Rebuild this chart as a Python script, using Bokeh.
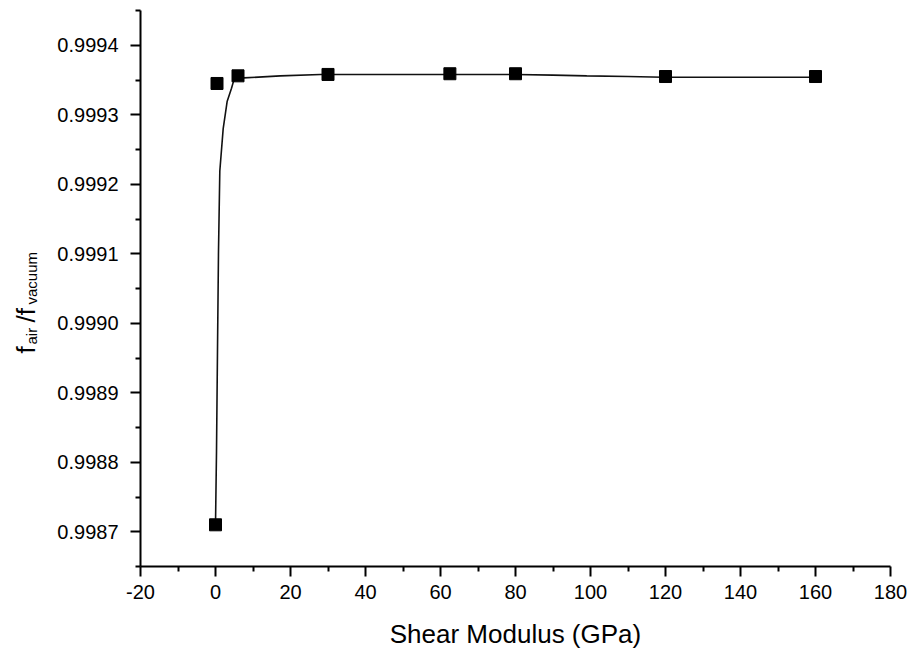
import math
from bokeh.plotting import figure
from bokeh.layouts import row
from bokeh.models import Range1d, FixedTicker, PrintfTickFormatter, ColumnDataSource
from bokeh.core.properties import value
from bokeh.embed import file_html
from bokeh.resources import INLINE

# ---- data ----
shear_modulus = [0, 0.4, 6, 30, 62.5, 80, 120, 160]
freq_ratio = [0.99871, 0.999345, 0.999356, 0.999358, 0.999359, 0.999359, 0.999355, 0.999355]

fit_x = [0, 0.27, 0.53, 0.8, 1.15, 2.05, 3.1, 4.27, 4.8, 5.9, 7.5, 17.3, 28, 49,
         62.5, 80, 90, 99, 110, 119.5, 140, 160]
fit_y = [0.99871, 0.998816, 0.99896, 0.999104, 0.999219, 0.99928, 0.999319, 0.999338,
         0.999348, 0.999355, 0.999353, 0.999356, 0.999358, 0.999358, 0.999358, 0.999358,
         0.999357, 0.999356, 0.999355, 0.999354, 0.999354, 0.999354]

x_ticks = [-20, 0, 20, 40, 60, 80, 100, 120, 140, 160, 180]
x_minor = [-10, 10, 30, 50, 70, 90, 110, 130, 150, 170]
y_ticks = [0.9987, 0.9988, 0.9989, 0.9990, 0.9991, 0.9992, 0.9993, 0.9994]
y_minor = [0.99865, 0.99875, 0.99885, 0.99895, 0.99905, 0.99915, 0.99925, 0.99935, 0.99945]

x_label = "Shear Modulus (GPa)"
y_label_parts = ["f", "air", "/f", "vacuum"]

FONT = "Liberation Sans"
X0, X1 = -20, 180
Y0, Y1 = 0.99865, 0.99945
W, H = 911, 659
LABEL_W = 40
FRAME_TOP, FRAME_BOTTOM = 10, 566

p = figure(width=W - LABEL_W, height=H, output_backend="svg", toolbar_location=None,
           x_range=Range1d(X0, X1), y_range=Range1d(Y0, Y1),
           min_border_left=140 - LABEL_W, min_border_right=21, min_border_top=FRAME_TOP,
           min_border_bottom=H - FRAME_BOTTOM)
p.outline_line_color = None
p.xgrid.visible = False
p.ygrid.visible = False
p.background_fill_color = "white"
p.border_fill_color = "white"

fit_src = ColumnDataSource(dict(x=fit_x, y=fit_y))
pt_src = ColumnDataSource(dict(x=shear_modulus, y=freq_ratio))
p.line("x", "y", source=fit_src, line_color="#111111", line_width=1.6)
p.scatter("x", "y", source=pt_src, marker="square", size=12,
          fill_color="black", line_color="black")

for ax in (p.xaxis[0], p.yaxis[0]):
    ax.axis_line_width = 2
    ax.major_tick_line_width = 2
    ax.minor_tick_line_width = 2
    ax.major_tick_in = 0
    ax.minor_tick_in = 0
    ax.major_tick_out = 10
    ax.minor_tick_out = 5
    ax.major_label_text_font = FONT
    ax.major_label_text_font_size = "20px"
    ax.major_label_text_color = "black"
    ax.axis_line_color = "black"
    ax.major_tick_line_color = "black"
    ax.minor_tick_line_color = "black"

p.xaxis.ticker = FixedTicker(ticks=x_ticks, minor_ticks=x_minor)
p.xaxis.major_label_overrides = {t: str(t) for t in x_ticks}
p.yaxis.ticker = FixedTicker(ticks=y_ticks, minor_ticks=y_minor)
p.yaxis.formatter = PrintfTickFormatter(format="%.4f")
p.xaxis.major_label_standoff = 8
p.yaxis.major_label_standoff = 12

p.xaxis.axis_label = x_label
p.xaxis.axis_label_text_font = FONT
p.xaxis.axis_label_text_font_size = "26px"
p.xaxis.axis_label_text_font_style = "normal"
p.xaxis.axis_label_text_color = "black"
p.xaxis.axis_label_standoff = 17

# ---- y axis label (with subscripts) in a narrow strip to the left ----
# the strip's frame is aligned with the main frame, so map canvas pixels accordingly
lab = figure(width=LABEL_W, height=H, output_backend="svg", toolbar_location=None,
             x_range=Range1d(0, LABEL_W), y_range=Range1d(H - FRAME_BOTTOM, H - FRAME_TOP),
             x_axis_location=None, y_axis_location=None,
             min_border=0, min_border_left=0, min_border_right=0,
             min_border_top=FRAME_TOP, min_border_bottom=H - FRAME_BOTTOM)
lab.outline_line_color = None
lab.xgrid.visible = False
lab.ygrid.visible = False
lab.background_fill_color = "white"
lab.border_fill_color = "white"

main_size, sub_size = 26, 15
sizes = [main_size, sub_size, main_size, sub_size]
starts = [353, 344, 322, 304]  # canvas y where each piece begins (text runs upward)
base_x = 25
sub_drop = 6
for i, txt in enumerate(y_label_parts):
    bx = base_x + (sub_drop if sizes[i] == sub_size else 0)
    lab.text(x=[bx], y=[H - starts[i]], text=[txt], angle=math.pi / 2,
             text_align="left", text_baseline="alphabetic",
             text_font=value(FONT), text_font_size=f"{sizes[i]}px",
             text_color="black")

layout = row(lab, p, spacing=0)
open("out.html", "w").write(file_html(layout, INLINE))
